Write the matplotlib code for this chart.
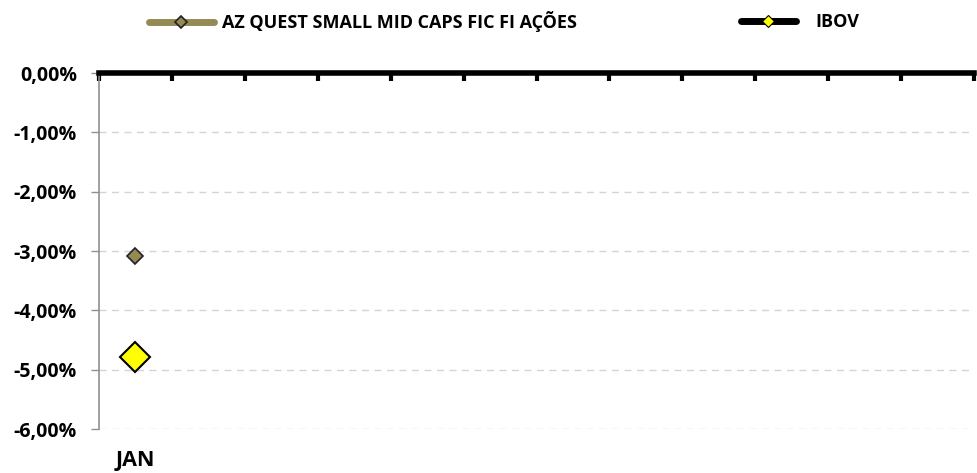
import matplotlib.pyplot as plt
from matplotlib.lines import Line2D
from matplotlib.ticker import FuncFormatter

plt.rcParams['font.family'] = ['Open Sans', 'DejaVu Sans']
plt.rcParams['font.weight'] = 'bold'

# data
months = ['JAN', '', '', '', '', '', '', '', '', '', '', '']
fund_name = 'AZ QUEST SMALL MID CAPS FIC FI AÇÕES'
bench_name = 'IBOV'
fund_vals = [-3.08]
bench_vals = [-4.79]

fund_color = '#948A54'
bench_color = '#FFFF00'

fig = plt.figure(figsize=(9.77, 4.73), dpi=100)
ax = fig.add_axes([99 / 977, 1 - 429 / 473, 875 / 977, 356 / 473])

x = list(range(len(fund_vals)))
ax.plot(x, fund_vals, color=fund_color, lw=4, marker='D', ms=8,
        mfc=fund_color, mec='#222222', mew=1.2, zorder=5)
ax.plot(x, bench_vals, color='black', lw=4, marker='D', ms=15,
        mfc=bench_color, mec='black', mew=1.5, zorder=5)

ax.set_xlim(-0.5, len(months) - 0.5)
ax.set_ylim(-6, 0)
ax.set_yticks([-6, -5, -4, -3, -2, -1, 0])
ax.yaxis.set_major_formatter(FuncFormatter(lambda v, p: f'{v:.2f}%'.replace('.', ',')))
ax.grid(axis='y', color='#D4D4D4', ls=(0, (5, 4)), lw=1)
ax.set_axisbelow(True)

# boundary ticks on the zero line, labels centred below the plot
ax.set_xticks([i - 0.5 for i in range(len(months) + 1)])
ax.set_xticks(range(len(months)), minor=True)
ax.set_xticklabels(months, minor=True)
ax.tick_params(axis='x', which='major', top=True, bottom=False, labeltop=False,
               labelbottom=False, direction='in', length=6, width=3, color='black')
ax.tick_params(axis='x', which='minor', bottom=True, top=False, length=0,
               labelsize=15.5, pad=15)
ax.tick_params(axis='y', which='major', length=6, width=1, color='#909090',
               labelsize=14, pad=10)

ax.spines['top'].set_linewidth(4)
ax.spines['top'].set_color('black')
ax.spines['top'].set_zorder(6)
ax.spines['right'].set_visible(False)
ax.spines['bottom'].set_visible(False)
ax.spines['left'].set_color('#909090')
ax.spines['left'].set_linewidth(1.2)

h1 = Line2D([], [], color=fund_color, lw=5, solid_capstyle='round', marker='D',
            ms=6, mfc=fund_color, mec='#222222', mew=1.2)
h2 = Line2D([], [], color='black', lw=5, solid_capstyle='round', marker='D',
            ms=6, mfc=bench_color, mec='black', mew=0.8)
fig.legend([h1], [fund_name], loc='center left', bbox_to_anchor=(139.5 / 977, 1 - 22 / 473),
           frameon=False, fontsize=13, handlelength=3.65, handletextpad=0.42, borderpad=0)
fig.legend([h2], [bench_name], loc='center left', bbox_to_anchor=(731.5 / 977, 1 - 22 / 473),
           frameon=False, fontsize=13, handlelength=3.05, handletextpad=1.08, borderpad=0)

fig.savefig('out.png', dpi=100)
